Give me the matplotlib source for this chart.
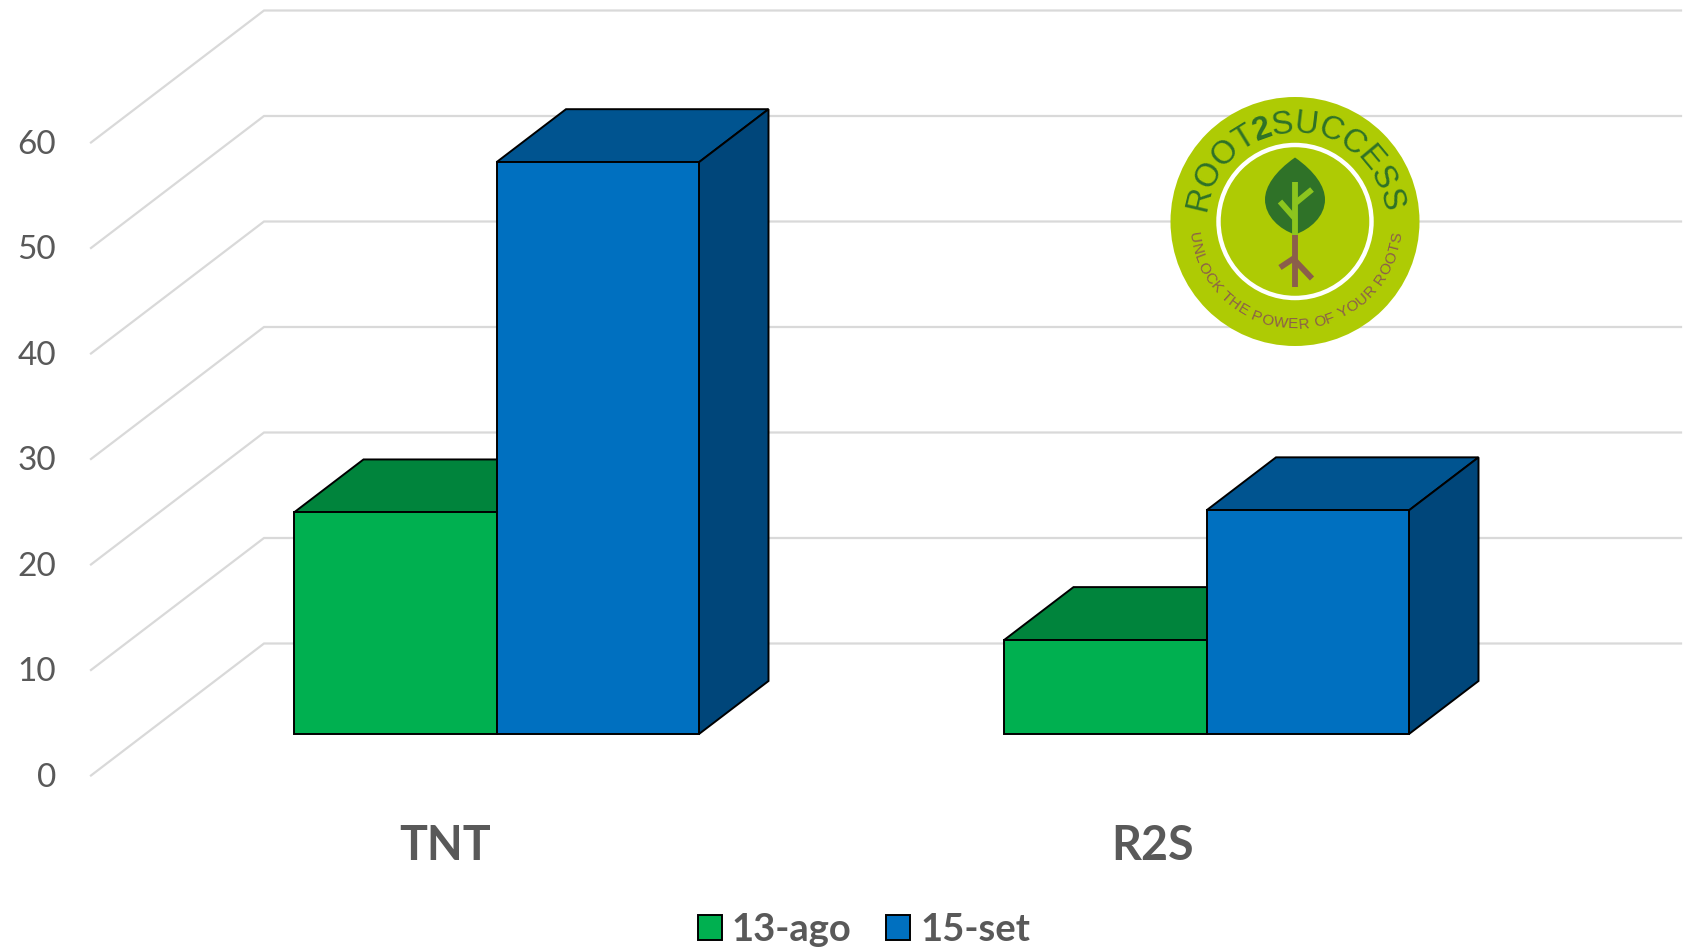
import numpy as np
import matplotlib
matplotlib.use('Agg')
from matplotlib import pyplot as plt
from matplotlib.patches import Polygon, Circle, Patch, PathPatch
from matplotlib.path import Path
from matplotlib.font_manager import FontProperties
from matplotlib.textpath import text_to_path

categories = ['TNT', 'R2S']
series_names = ['13-ago', '15-set']
values_ago = [21.0, 8.9]
values_set = [54.2, 21.2]
y_ticks = [0, 10, 20, 30, 40, 50, 60]

W, H = 1688, 951
plt.rcParams['font.family'] = ['Lato', 'DejaVu Sans']
fig = plt.figure(figsize=(W / 100, H / 100), dpi=100)
ax = fig.add_axes([0, 0, 1, 1])

# scale: 710 px between groups, 10.55 px per unit
px_x = 710.0
px_y = 10.55
x0_px = 496.5
y0_px = 734.0
ax.set_xlim(-x0_px / px_x, (W - x0_px) / px_x)
ax.set_ylim((y0_px - H) / px_y, y0_px / px_y)
ax.axis('off')

bar_w = 202.5 / px_x
depth_x = 69.5 / px_x
depth_y = 53 / px_y

# grid on side wall and back wall
front_x = (91 - x0_px) / px_x
back_x = (264 - x0_px) / px_x
right_x = (1681 - x0_px) / px_x
front_y = (y0_px - 775.5) / px_y
back_y = (y0_px - 643.5) / px_y
grid_col = '#D9D9D9'
for v in y_ticks:
    ax.plot([front_x, back_x, right_x], [v + front_y, v + back_y, v + back_y],
            color=grid_col, lw=1.6, zorder=1, solid_joinstyle='miter')
    ax.text((56 - x0_px) / px_x, v + front_y + 0.05, str(v), ha='right', va='center_baseline',
            fontsize=24, color='#595959')


def bar3d(x_left, val, front, top, side, z):
    x_right = x_left + bar_w
    ax.add_patch(Polygon([[x_left, 0], [x_right, 0], [x_right, val], [x_left, val]],
                         facecolor=front, edgecolor='black', lw=1.4, zorder=z + 0.2,
                         joinstyle='miter'))
    ax.add_patch(Polygon([[x_left, val], [x_right, val], [x_right + depth_x, val + depth_y],
                          [x_left + depth_x, val + depth_y]],
                         facecolor=top, edgecolor='black', lw=1.4, zorder=z, joinstyle='miter'))
    ax.add_patch(Polygon([[x_right, 0], [x_right + depth_x, depth_y],
                          [x_right + depth_x, val + depth_y], [x_right, val]],
                         facecolor=side, edgecolor='black', lw=1.4, zorder=z, joinstyle='miter'))


for i in range(len(categories)):
    bar3d(i - bar_w, values_ago[i], '#00B050', '#00843C', '#00642D', 3 + i)
    bar3d(i, values_set[i], '#0070C0', '#005490', '#00467A', 3.5 + i)

# category labels sit a bit left of the group centre
label_shift = [51, 54]
for i, c in enumerate(categories):
    ax.text(i - label_shift[i] / px_x, (y0_px - 845.5) / px_y, c, ha='center', va='center',
            fontsize=33.5, fontweight='bold', color='#595959')

handles = [Patch(facecolor='#00B050', edgecolor='black', lw=1.4),
           Patch(facecolor='#0070C0', edgecolor='black', lw=1.4)]
leg = ax.legend(handles, series_names, loc='center', ncol=2, frameon=False,
                bbox_to_anchor=(864 / W, 1 - 930 / H), bbox_transform=fig.transFigure,
                prop={'size': 27.5, 'weight': 'bold'}, labelcolor='#595959',
                handlelength=0.62, handleheight=0.62, handletextpad=0.27, columnspacing=0.9)

# logo
logo_c = (1295, 221.5)
logo_r = 125
lax = fig.add_axes([(logo_c[0] - logo_r) / W, 1 - (logo_c[1] + logo_r) / H,
                    2 * logo_r / W, 2 * logo_r / H])
lax.set_xlim(-logo_r, logo_r)
lax.set_ylim(-logo_r, logo_r)
lax.axis('off')
lax.patch.set_alpha(0)
lime = '#AECB04'
dark = '#2F7228'
brown = '#8B5E4B'
stem = '#8CC51E'
lax.add_patch(Circle((0, 0), 124.5, facecolor=lime, edgecolor='none'))
lax.add_patch(Circle((0, 0), 76.5, facecolor='none', edgecolor='white', lw=3.2))

leaf = Path([(0, 64), (-20, 50), (-30, 35), (-30, 22), (-30, 5), (-15, -8), (0, -13),
             (15, -8), (30, 5), (30, 22), (30, 35), (20, 50), (0, 64)],
            [Path.MOVETO] + [Path.CURVE4] * 12)
lax.add_patch(PathPatch(leaf, facecolor=dark, edgecolor='none'))
lax.plot([0, 0], [-13, 40], color=stem, lw=4.2, solid_capstyle='butt')
lax.plot([0, -15], [3, 20], color=stem, lw=4.2, solid_capstyle='butt')
lax.plot([0, 17], [18, 32], color=stem, lw=4.2, solid_capstyle='butt')
lax.plot([0, 0], [-13, -65], color=brown, lw=4.2, solid_capstyle='butt')
lax.plot([0, -15], [-36, -46], color=brown, lw=4.2, solid_capstyle='butt')
lax.plot([-1, 17], [-38, -57], color=brown, lw=4.2, solid_capstyle='butt')


def arc_text(text, r, a0, a1, size, color, top, bold_chars=''):
    widths = []
    for ch in text:
        wt = 'bold' if ch in bold_chars else 'normal'
        fp = FontProperties(family='Liberation Sans', weight=wt)
        w = text_to_path.get_text_width_height_descent(ch, fp, False)[0]
        widths.append(w)
    widths = np.array(widths, dtype=float)
    edges = np.concatenate([[0], np.cumsum(widths)])
    mids = (edges[:-1] + edges[1:]) / 2 / edges[-1]
    for ch, m in zip(text, mids):
        th = a0 + (a1 - a0) * m
        t = np.radians(th)
        rot = th - 90 if top else th + 90
        lax.text(r * np.cos(t), r * np.sin(t), ch, rotation=rot, rotation_mode='anchor',
                 ha='center', va='baseline', fontsize=size, color=color,
                 family='Liberation Sans', fontweight='bold' if ch in bold_chars else 'normal')


arc_text('ROOT2SUCCESS', 89, 174, 6, 23.5, dark, True, bold_chars='2')
arc_text('UNLOCK THE POWER OF YOUR ROOTS', 107, 186, 354, 11, brown, False)

plt.savefig('out.png', dpi=100)
